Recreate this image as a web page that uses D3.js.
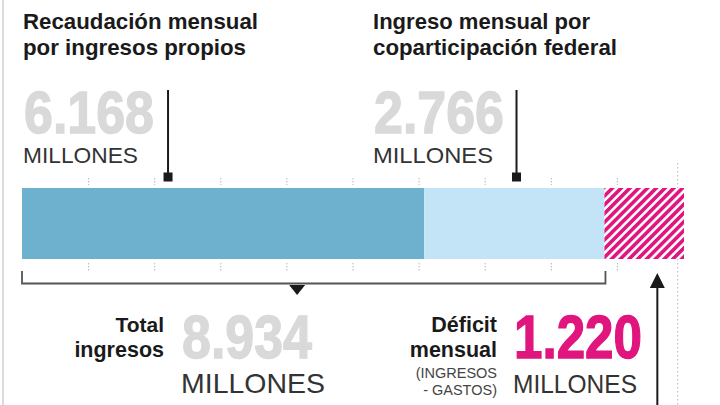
<!DOCTYPE html>
<html>
<head>
<meta charset="utf-8">
<script src="https://cdn.jsdelivr.net/npm/d3@7"></script>
<style>
  html, body { margin: 0; padding: 0; background: #fff; }
  .chart { width: 720px; height: 405px; }
  text { font-family: "Liberation Sans", Arial, Helvetica, sans-serif; }
  .big { font-family: "Liberation Sans", Arial, sans-serif; font-weight: bold; }
  .head { font-weight: bold; fill: #1a1a1a; font-size: 21.5px; }
  .unit { fill: #333; }
  .axis line { stroke: #b5b5b5; stroke-dasharray: 1.5,1.5; }
  .axis .domain { display: none; }
</style>
</head>
<body>
<div class="chart"></div>
<script>
// Values in millions of pesos (monthly)
const segments = ['propios', 'coparticipacion', 'deficit']
const values = [6168, 2766, 1220]
const segmentColors = ['#6eb1cf', '#c3e4f6', 'url(#hatch)']
const gridTicks = [1000, 2000, 3000, 4000, 5000, 6000, 7000, 8000, 9000]

const headlines = [
  ['Recaudación mensual', 'por ingresos propios'],
  ['Ingreso mensual por', 'coparticipación federal']
]
const unitLabel = 'MILLONES'

// where the pointers sit, in value units along the bar
const annot = { leftPointer: 2240, rightPointer: 7585, bracketMark: 4220, deficitArrow: 9745 }

const width = 720
const height = 405
const barTop = 188
const barHeight = 71

const fmt = d3.formatLocale({ decimal: ',', thousands: '.', grouping: [3], currency: ['$', ''] }).format(',d')

const $chart = d3.select('.chart')
$chart.selectAll('*').remove()

const svg = $chart.append('svg')
  .attr('width', width)
  .attr('height', height)

const defs = svg.append('defs')
const hatch = defs.append('pattern')
  .attr('id', 'hatch')
  .attr('patternUnits', 'userSpaceOnUse')
  .attr('width', 6.2)
  .attr('height', 6.2)
  .attr('patternTransform', 'rotate(45)')
hatch.append('rect').attr('width', 6.2).attr('height', 6.2).attr('fill', '#fff')
hatch.append('rect').attr('width', 3.6).attr('height', 6.2).attr('fill', '#e0157d')

const total = d3.sum(values)
const ingresos = values[0] + values[1]

// bar scale and the decorative grid scale
const x = d3.scaleLinear().domain([0, total]).range([22, 684])
const grid = d3.scaleLinear().domain([0, 10000]).range([22, 683])

// left border
svg.append('line')
  .attr('x1', 3).attr('x2', 3).attr('y1', 0).attr('y2', height)
  .attr('stroke', '#cfcfcf').attr('stroke-width', 1.5)

// dotted right limit
svg.append('line')
  .attr('x1', grid(9920)).attr('x2', grid(9920))
  .attr('y1', 163).attr('y2', height)
  .attr('stroke', '#b5b5b5').attr('stroke-dasharray', '1.5,2.5')

// tick marks above and below the bar
svg.append('g')
  .attr('class', 'axis')
  .attr('transform', `translate(0, ${barTop - 10})`)
  .call(d3.axisBottom(grid).tickValues(gridTicks).tickSize(7).tickFormat(''))
svg.append('g')
  .attr('class', 'axis')
  .attr('transform', `translate(0, ${barTop + barHeight + 4})`)
  .call(d3.axisBottom(grid).tickValues(gridTicks).tickSize(9).tickFormat(''))

// stacked bar
const stacked = values.map((v, i) => ({
  key: segments[i],
  x0: d3.sum(values.slice(0, i)),
  x1: d3.sum(values.slice(0, i + 1))
}))

svg.selectAll('.seg')
  .data(stacked)
  .enter()
  .append('rect')
  .attr('class', 'seg')
  .attr('x', d => x(d.x0))
  .attr('y', barTop)
  .attr('width', d => x(d.x1) - x(d.x0))
  .attr('height', barHeight)
  .attr('fill', (d, i) => segmentColors[i])

// headlines
headlines.forEach((lines, i) => {
  const hx = i === 0 ? 23 : 373
  const widths = i === 0 ? [235, 223] : [217, 244]
  lines.forEach((t, j) => {
    svg.append('text')
      .attr('class', 'head')
      .attr('x', hx)
      .attr('y', 28.5 + j * 26.5)
      .attr('textLength', widths[j])
      .attr('lengthAdjust', 'spacingAndGlyphs')
      .text(t)
  })
})

// big figures (squeezed bold, with a thin same-colour stroke to make them heavier)
const bigText = (tx, ty, size, len, fill, label) => {
  svg.append('text')
    .attr('class', 'big')
    .attr('x', tx)
    .attr('y', ty)
    .attr('font-size', size)
    .attr('fill', fill)
    .attr('stroke', fill)
    .attr('stroke-width', 1.4)
    .attr('textLength', len)
    .attr('lengthAdjust', 'spacingAndGlyphs')
    .text(label)
}
const unitText = (tx, ty, size, len) => {
  svg.append('text')
    .attr('class', 'unit')
    .attr('x', tx)
    .attr('y', ty)
    .attr('font-size', size)
    .attr('textLength', len)
    .attr('lengthAdjust', 'spacingAndGlyphs')
    .text(unitLabel)
}

bigText(24, 133, 59, 130, '#d9d9d9', fmt(values[0]))
unitText(23, 163, 21.5, 115)
bigText(374, 133, 59, 130, '#d9d9d9', fmt(values[1]))
unitText(373, 163, 21.5, 120)

bigText(182, 358, 62, 130, '#d9d9d9', fmt(ingresos))
unitText(181, 393, 28, 144)
bigText(514, 358, 62, 128, '#e0157d', fmt(values[2]))
unitText(513, 393, 25, 124)

// pointers to the bar
;[annot.leftPointer, annot.rightPointer].forEach(v => {
  svg.append('line')
    .attr('x1', x(v)).attr('x2', x(v))
    .attr('y1', 90).attr('y2', 176)
    .attr('stroke', '#1a1a1a').attr('stroke-width', 2)
  svg.append('rect')
    .attr('x', x(v) - 4.5).attr('y', 172.5)
    .attr('width', 9).attr('height', 9)
    .attr('fill', '#1a1a1a')
})

// bracket under total income
svg.append('path')
  .attr('d', `M${x(0)},271 V283.5 H${x(ingresos) + 1} V271`)
  .attr('fill', 'none')
  .attr('stroke', '#555')
  .attr('stroke-width', 1.8)
const bm = x(annot.bracketMark)
svg.append('path')
  .attr('d', `M${bm - 8},285 L${bm + 8},285 L${bm},295 Z`)
  .attr('fill', '#1a1a1a')

// arrow to the deficit
const da = x(annot.deficitArrow)
svg.append('line')
  .attr('x1', da).attr('x2', da)
  .attr('y1', 286).attr('y2', height)
  .attr('stroke', '#1a1a1a').attr('stroke-width', 2)
svg.append('path')
  .attr('d', `M${da},273 L${da + 7.5},288 L${da - 7.5},288 Z`)
  .attr('fill', '#1a1a1a')

// side labels
const sideLabel = (tx, ty, size, weight, fill, t) => {
  svg.append('text')
    .attr('x', tx)
    .attr('y', ty)
    .attr('text-anchor', 'end')
    .attr('font-size', size)
    .attr('font-weight', weight)
    .attr('fill', fill)
    .text(t)
}
sideLabel(164, 332, 21, 'bold', '#1a1a1a', 'Total')
sideLabel(164, 357, 21.5, 'bold', '#1a1a1a', 'ingresos')
sideLabel(497, 332, 21.5, 'bold', '#1a1a1a', 'Déficit')
sideLabel(497, 357, 21.5, 'bold', '#1a1a1a', 'mensual')
sideLabel(497, 378, 14.5, 'normal', '#444', '(INGRESOS')
sideLabel(497, 395, 14.5, 'normal', '#444', '- GASTOS)')
</script>
</body>
</html>
